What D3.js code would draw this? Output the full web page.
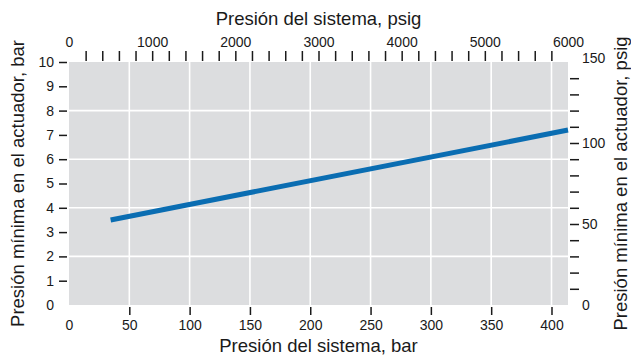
<!DOCTYPE html>
<html>
<head>
<meta charset="utf-8">
<script src="https://cdn.jsdelivr.net/npm/d3@7"></script>
<style>
  body { margin: 0; background: #fff; }
  svg text { font-family: "Liberation Sans", Arial, Helvetica, sans-serif; fill: #1a1a1a; }
  .axis path.domain { display: none; }
  .axis line { stroke: #1a1a1a; stroke-width: 1.5; }
  .axis text { font-size: 14px; }
  .title { font-size: 18.5px; }
</style>
</head>
<body>
<div id="chart"></div>
<script>
// Data
const systemBar = [34.5, 413.7]          // Presión del sistema, bar
const actuatorBar = [3.5, 7.2]           // Presión mínima en el actuador, bar

const barTicks = [0, 50, 100, 150, 200, 250, 300, 350, 400]
const leftTicks = [0, 1, 2, 3, 4, 5, 6, 7, 8, 9, 10]
const gridBar = [50, 100, 150, 200, 250, 300, 350, 400]
const gridY = [2, 4, 6, 8]
const psigTicks = d3.range(0, 6001, 200)
const psigLabels = [0, 1000, 2000, 3000, 4000, 5000, 6000]
const rightTicks = d3.range(0, 151, 10)
const rightLabels = [0, 50, 100, 150]

const PSI_PER_BAR = 14.5038

function draw(){
    //Dimensions
    let dims = {
        width: 631,
        height: 358,
        margin: { top: 62, bottom: 53, left: 69, right: 63 }
    }
    dims.ctrWidth = dims.width - dims.margin.left - dims.margin.right
    dims.ctrHeight = dims.height - dims.margin.top - dims.margin.bottom

    // Scales
    const xScale = d3.scaleLinear()
        .domain([0, 6000 / PSI_PER_BAR])
        .range([0, dims.ctrWidth])

    const xPsig = d3.scaleLinear()
        .domain([0, 6000])
        .range([0, dims.ctrWidth])

    const yScale = d3.scaleLinear()
        .domain([0, 10])
        .range([dims.ctrHeight, 0])

    const yPsig = d3.scaleLinear()
        .domain([0, 150])
        .range([dims.ctrHeight, 0])

    const svg = d3.select('#chart')
        .append('svg')
        .attr('width', dims.width)
        .attr('height', dims.height)

    const ctr = svg.append('g')
        .attr('transform', `translate(${dims.margin.left}, ${dims.margin.top})`)

    // Plot background + grid
    ctr.append('rect')
        .attr('width', dims.ctrWidth)
        .attr('height', dims.ctrHeight)
        .attr('fill', '#dcdddf')

    ctr.selectAll('.vgrid')
        .data(gridBar)
        .join('line')
        .attr('x1', d => xScale(d))
        .attr('x2', d => xScale(d))
        .attr('y1', 0)
        .attr('y2', dims.ctrHeight)
        .attr('stroke', '#fff')
        .attr('stroke-width', 1.6)

    ctr.selectAll('.hgrid')
        .data(gridY)
        .join('line')
        .attr('x1', 0)
        .attr('x2', dims.ctrWidth)
        .attr('y1', d => yScale(d))
        .attr('y2', d => yScale(d))
        .attr('stroke', '#fff')
        .attr('stroke-width', 1.6)

    // Line
    const line = d3.line()
        .x(d => xScale(d[0]))
        .y(d => yScale(d[1]))

    ctr.append('path')
        .datum(d3.zip(systemBar, actuatorBar))
        .attr('d', line)
        .attr('fill', 'none')
        .attr('stroke', '#0a6db2')
        .attr('stroke-width', 5)

    // Axes
    const xAxis = d3.axisBottom(xScale)
        .tickValues(barTicks)
        .tickSize(8)
        .tickPadding(5)
        .tickFormat(d3.format('d'))
    const xAxisGroup = ctr.append('g')
        .attr('class', 'axis')
        .attr('transform', `translate(0, ${dims.ctrHeight + 2})`)
        .call(xAxis)
    xAxisGroup.selectAll('.tick').filter(d => d === 0).select('line').remove()

    const topAxis = d3.axisTop(xPsig)
        .tickValues(psigTicks)
        .tickSize(10)
        .tickPadding(4)
        .tickFormat(d => psigLabels.includes(d) ? d : '')
    const topGroup = ctr.append('g')
        .attr('class', 'axis')
        .attr('transform', 'translate(0, -1)')
        .call(topAxis)
    topGroup.selectAll('.tick').filter(d => d === 0 || d === 6000).select('line').remove()

    const yAxis = d3.axisLeft(yScale)
        .tickValues(leftTicks)
        .tickSize(8)
        .tickPadding(5)
    const yAxisGroup = ctr.append('g')
        .attr('class', 'axis')
        .attr('transform', 'translate(-2, 0)')
        .call(yAxis)
    yAxisGroup.selectAll('.tick').filter(d => d === 0).select('line').remove()

    const rAxis = d3.axisRight(yPsig)
        .tickValues(rightTicks)
        .tickSize(9)
        .tickPadding(3)
        .tickFormat(d => rightLabels.includes(d) ? d : '')
    const rGroup = ctr.append('g')
        .attr('class', 'axis')
        .attr('transform', `translate(${dims.ctrWidth + 2}, 0)`)
        .call(rAxis)
    rGroup.selectAll('.tick').filter(d => d === 0 || d === 150).select('line').remove()
    rGroup.selectAll('.tick').filter(d => d === 150).select('text').attr('dy', '0.05em')

    // Titles
    svg.append('text')
        .attr('class', 'title')
        .attr('x', dims.margin.left + dims.ctrWidth / 2)
        .attr('y', 25)
        .attr('text-anchor', 'middle')
        .text('Presión del sistema, psig')

    svg.append('text')
        .attr('class', 'title')
        .attr('x', dims.margin.left + dims.ctrWidth / 2)
        .attr('y', 352)
        .attr('text-anchor', 'middle')
        .text('Presión del sistema, bar')

    const midY = dims.margin.top + dims.ctrHeight / 2
    svg.append('text')
        .attr('class', 'title')
        .attr('transform', `translate(24, ${midY}) rotate(-90)`)
        .attr('text-anchor', 'middle')
        .text('Presión mínima en el actuador, bar')

    svg.append('text')
        .attr('class', 'title')
        .attr('transform', `translate(627, ${midY}) rotate(-90)`)
        .attr('text-anchor', 'middle')
        .text('Presión mínima en el actuador, psig')
}
draw()
</script>
</body>
</html>
